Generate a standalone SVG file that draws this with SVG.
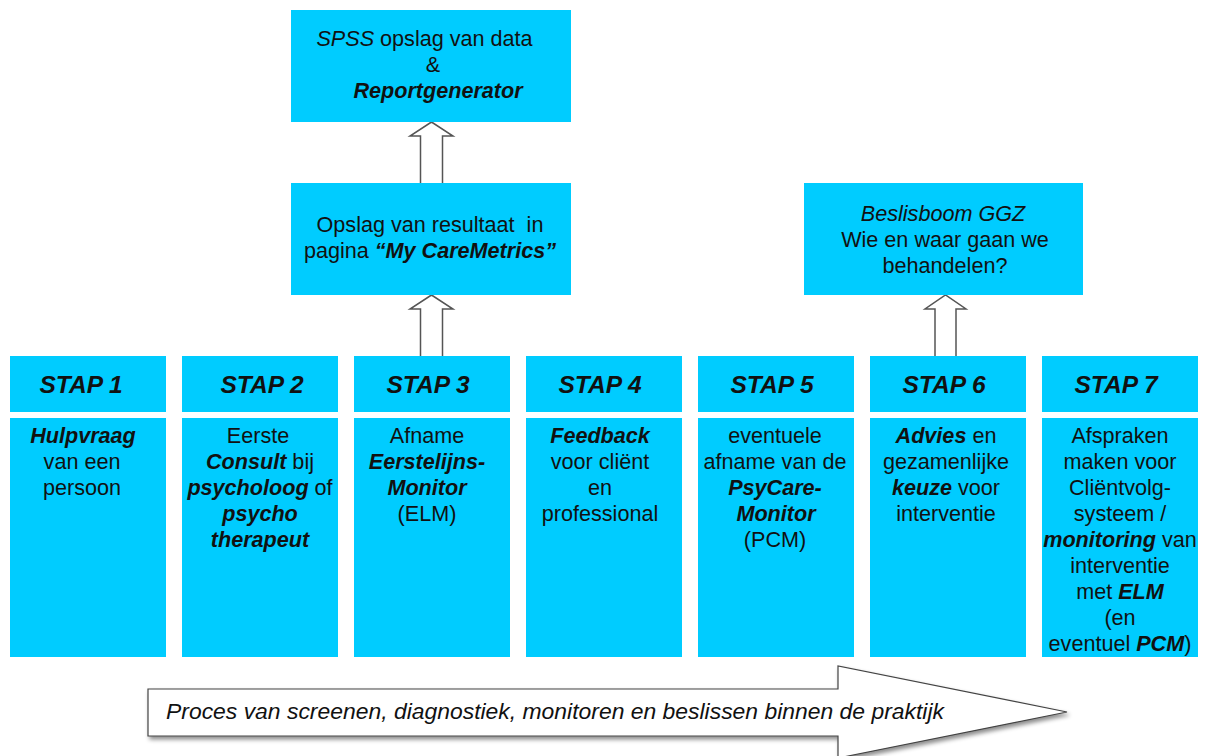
<svg xmlns="http://www.w3.org/2000/svg" width="1207" height="756" viewBox="0 0 1207 756">
<defs>
<style>
.box{fill:#00CCFF;}
.t{font-family:"Liberation Sans",Arial,sans-serif;font-size:21.6px;fill:#111;text-anchor:middle;}
.h{font-family:"Liberation Sans",Arial,sans-serif;font-size:24.5px;font-weight:bold;font-style:italic;fill:#111;text-anchor:middle;}
.bi{font-weight:bold;font-style:italic;}
.i{font-style:italic;}
.up{fill:#fff;stroke:#555;stroke-width:1.5;}
</style>
<filter id="sh" x="-5%" y="-20%" width="110%" height="150%">
<feDropShadow dx="2" dy="3" stdDeviation="2" flood-color="#000" flood-opacity="0.45"/>
</filter>
</defs>
<rect width="1207" height="756" fill="#fff"/>

<g id="connectors">
<path class="up" d="M420.5,183 L420.5,136 L410,136 L431.5,122 L453,136 L442.5,136 L442.5,183"/>
<path class="up" d="M420.5,356 L420.5,309 L410,309 L431.5,295 L453,309 L442.5,309 L442.5,356"/>
<path class="up" d="M935,356 L935,309 L925,309 L945.5,295 L966,309 L956,309 L956,356"/>
</g>

<g id="spss">
<rect class="box" x="291" y="10" width="280" height="112"/>
<text class="t" x="424.5" y="46"><tspan class="i">SPSS</tspan> opslag van data</text>
<text class="t" x="433" y="72">&amp;</text>
<text class="t bi" x="438" y="98">Reportgenerator</text>
</g>

<g id="mycaremetrics">
<rect class="box" x="291" y="183" width="280" height="112"/>
<text class="t" x="430" y="231.5" xml:space="preserve">Opslag van resultaat  in</text>
<text class="t" x="430" y="258">pagina <tspan class="bi">“My CareMetrics”</tspan></text>
</g>

<g id="beslisboom">
<rect class="box" x="804" y="183" width="279" height="112"/>
<text class="t i" x="943" y="221">Beslisboom GGZ</text>
<text class="t" x="945" y="247">Wie en waar gaan we</text>
<text class="t" x="945" y="273">behandelen?</text>
</g>

<g id="stap1">
<rect class="box" x="10" y="356" width="156" height="56"/>
<rect class="box" x="10" y="418" width="156" height="239"/>
<text class="h" x="81" y="393">STAP 1</text>
<text class="t" x="83" y="443"><tspan class="bi">Hulpvraag</tspan></text>
<text class="t" x="82" y="469">van een</text>
<text class="t" x="82" y="495">persoon</text>
</g>

<g id="stap2">
<rect class="box" x="182" y="356" width="156" height="56"/>
<rect class="box" x="182" y="418" width="156" height="239"/>
<text class="h" x="262" y="393">STAP 2</text>
<text class="t" x="258" y="443">Eerste</text>
<text class="t" x="260" y="469"><tspan class="bi">Consult</tspan> bij</text>
<text class="t" x="260" y="495"><tspan class="bi">psycholoog</tspan> of</text>
<text class="t bi" x="260" y="521">psycho</text>
<text class="t bi" x="260" y="547">therapeut</text>
</g>

<g id="stap3">
<rect class="box" x="354" y="356" width="156" height="56"/>
<rect class="box" x="354" y="418" width="156" height="239"/>
<text class="h" x="428" y="393">STAP 3</text>
<text class="t" x="427" y="443">Afname</text>
<text class="t bi" x="427" y="469">Eerstelijns-</text>
<text class="t bi" x="427" y="495">Monitor</text>
<text class="t" x="427" y="521">(ELM)</text>
</g>

<g id="stap4">
<rect class="box" x="526" y="356" width="156" height="56"/>
<rect class="box" x="526" y="418" width="156" height="239"/>
<text class="h" x="600" y="393">STAP 4</text>
<text class="t bi" x="600" y="443">Feedback</text>
<text class="t" x="600" y="469">voor cliënt</text>
<text class="t" x="600" y="495">en</text>
<text class="t" x="600" y="521">professional</text>
</g>

<g id="stap5">
<rect class="box" x="698" y="356" width="156" height="56"/>
<rect class="box" x="698" y="418" width="156" height="239"/>
<text class="h" x="772" y="393">STAP 5</text>
<text class="t" x="775" y="443">eventuele</text>
<text class="t" x="775" y="469">afname van de</text>
<text class="t bi" x="775" y="495">PsyCare-</text>
<text class="t bi" x="776" y="521">Monitor</text>
<text class="t" x="775" y="547">(PCM)</text>
</g>

<g id="stap6">
<rect class="box" x="870" y="356" width="156" height="56"/>
<rect class="box" x="870" y="418" width="156" height="239"/>
<text class="h" x="944" y="393">STAP 6</text>
<text class="t" x="946" y="443"><tspan class="bi">Advies</tspan> en</text>
<text class="t" x="946" y="469">gezamenlijke</text>
<text class="t" x="946" y="495"><tspan class="bi">keuze</tspan> voor</text>
<text class="t" x="946" y="521">interventie</text>
</g>

<g id="stap7">
<rect class="box" x="1042" y="356" width="156" height="56"/>
<rect class="box" x="1042" y="418" width="156" height="239"/>
<text class="h" x="1116" y="393">STAP 7</text>
<text class="t" x="1120" y="443">Afspraken</text>
<text class="t" x="1120" y="469">maken voor</text>
<text class="t" x="1120" y="495">Cliëntvolg-</text>
<text class="t" x="1120" y="521">systeem /</text>
<text class="t" x="1120" y="547"><tspan class="bi">monitoring</tspan> van</text>
<text class="t" x="1120" y="573">interventie</text>
<text class="t" x="1120" y="599">met <tspan class="bi">ELM</tspan></text>
<text class="t" x="1120" y="625">(en</text>
<text class="t" x="1120" y="651">eventuel <tspan class="bi">PCM</tspan>)</text>
</g>

<g id="proces">
<path d="M148,689 L838,689 L838,666 L1067,712 L838,758 L838,736 L148,736 Z" fill="#fff" stroke="#444" stroke-width="1.2" filter="url(#sh)"/>
<text x="166" y="719" font-family="'Liberation Sans',Arial,sans-serif" font-size="22" font-style="italic" fill="#111" textLength="778" lengthAdjust="spacingAndGlyphs">Proces van screenen, diagnostiek, monitoren en beslissen binnen de praktijk</text>
</g>
</svg>
